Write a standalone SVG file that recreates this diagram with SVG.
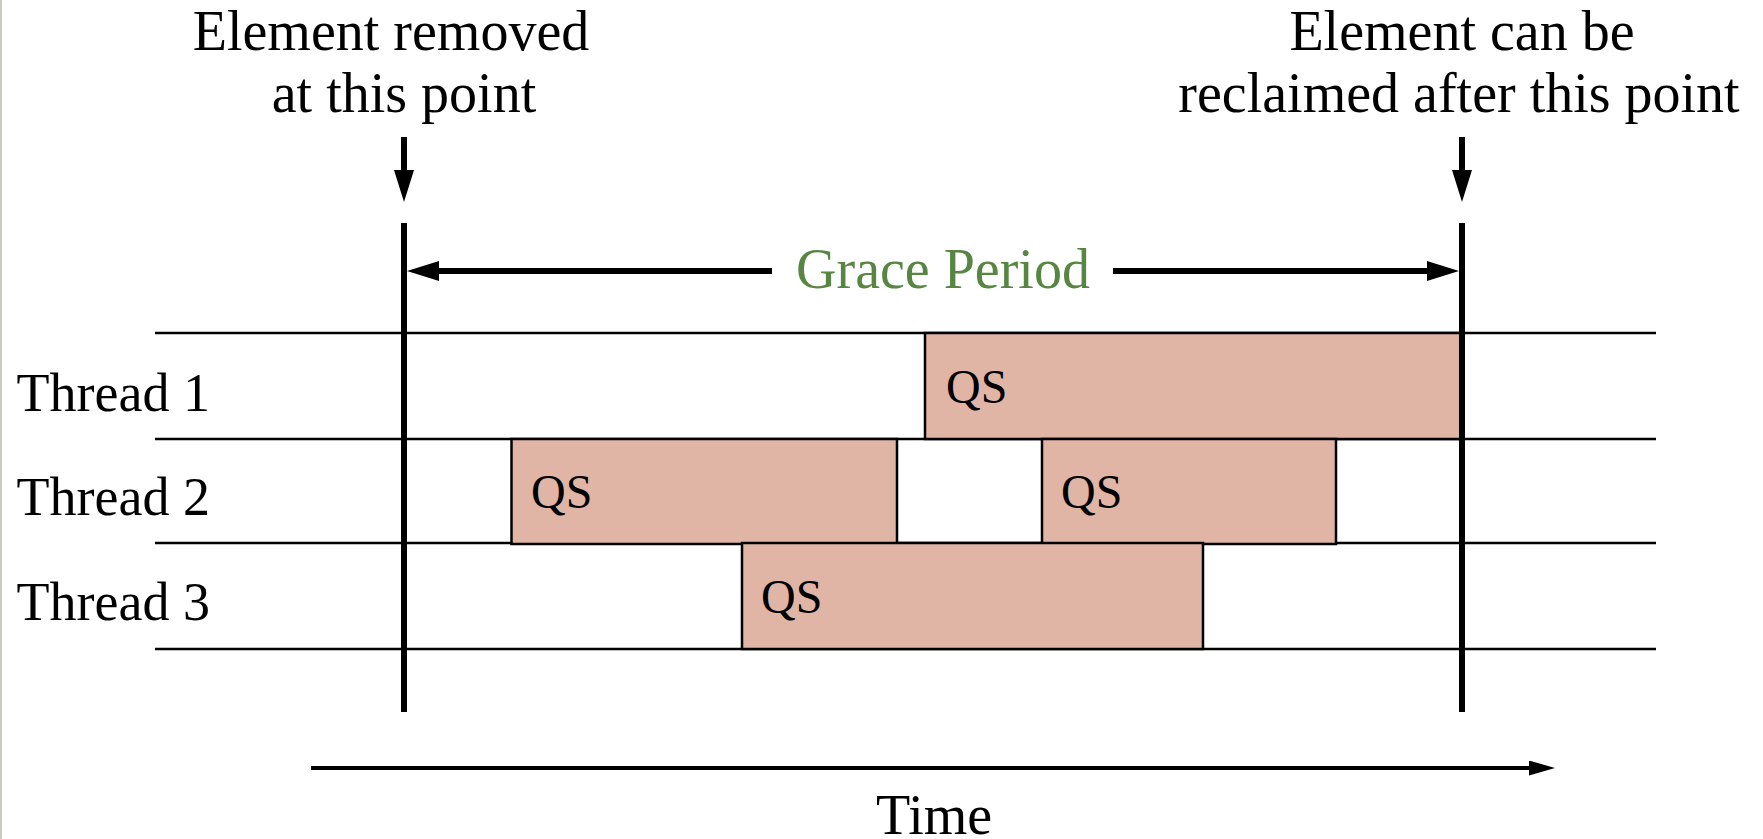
<svg xmlns="http://www.w3.org/2000/svg" width="1763" height="839" viewBox="0 0 1763 839">
  <style>
    text { font-family: "Liberation Serif", "Times New Roman", serif; fill: #000; }
    .lbl { font-size: 56px; text-anchor: middle; }
    .thr { font-size: 54px; text-anchor: end; }
    .qs { font-size: 48px; }
    .grace { font-size: 56px; text-anchor: middle; fill: #578642; }
    .lane { stroke: #000; stroke-width: 2.5; fill: none; }
    .box { fill: #e0b5a6; stroke: #000; stroke-width: 2.5; }
    .mark { stroke: #000; stroke-width: 6; fill: none; }
    .arr { stroke: #000; stroke-width: 6; fill: none; marker-end: url(#head-lg); }
    .time { stroke: #000; stroke-width: 4; fill: none; marker-end: url(#head-sm); }
  </style>
  <defs>
    <marker id="head-lg" viewBox="0 0 32 20" refX="8" refY="10" markerWidth="32" markerHeight="20" markerUnits="userSpaceOnUse" orient="auto">
      <path d="M0,0 L32,10 L0,20 Z" fill="#000"/>
    </marker>
    <marker id="head-sm" viewBox="0 0 26 15" refX="6" refY="7.5" markerWidth="26" markerHeight="15" markerUnits="userSpaceOnUse" orient="auto">
      <path d="M0,0 L26,7.5 L0,15 Z" fill="#000"/>
    </marker>
  </defs>

  <rect width="1763" height="839" fill="#fff"/>
  <rect x="0" y="0" width="2" height="839" fill="#c9cbc1"/>

  <!-- thread lanes -->
  <g id="lanes">
    <line class="lane" x1="155" y1="333" x2="1656" y2="333"/>
    <line class="lane" x1="155" y1="439" x2="1656" y2="439"/>
    <line class="lane" x1="155" y1="543" x2="1656" y2="543"/>
    <line class="lane" x1="155" y1="649" x2="1656" y2="649"/>
  </g>

  <g id="thread1">
    <text class="thr" x="210" y="411">Thread 1</text>
    <g id="qs-t1">
      <rect class="box" x="925" y="333" width="537" height="106"/>
      <text class="qs" x="946" y="403">QS</text>
    </g>
  </g>
  <g id="thread2">
    <text class="thr" x="210" y="515">Thread 2</text>
    <g id="qs-t2a">
      <rect class="box" x="511.5" y="439" width="385.5" height="105"/>
      <text class="qs" x="531" y="508">QS</text>
    </g>
    <g id="qs-t2b">
      <rect class="box" x="1042" y="439" width="294" height="105"/>
      <text class="qs" x="1061" y="508">QS</text>
    </g>
  </g>
  <g id="thread3">
    <text class="thr" x="210" y="620">Thread 3</text>
    <g id="qs-t3">
      <rect class="box" x="742" y="543" width="461" height="106"/>
      <text class="qs" x="761" y="613">QS</text>
    </g>
  </g>

  <g id="removed-label">
    <text class="lbl" x="391" y="50">Element removed</text>
    <text class="lbl" x="404" y="112">at this point</text>
  </g>
  <g id="reclaim-label">
    <text class="lbl" x="1462" y="50">Element can be</text>
    <text class="lbl" x="1459" y="112">reclaimed after this point</text>
  </g>
  <g id="grace-label">
    <text class="grace" x="943" y="288">Grace Period</text>
  </g>
  <g id="time-label">
    <text class="lbl" x="934" y="834">Time</text>
  </g>

  <!-- connectors: markers, pointer arrows, grace span, time axis -->
  <g id="connectors">
    <line class="mark" x1="404" y1="223" x2="404" y2="712"/>
    <line class="mark" x1="1462" y1="223" x2="1462" y2="712"/>
    <line class="arr" x1="404" y1="137" x2="404" y2="178"/>
    <line class="arr" x1="1462" y1="137" x2="1462" y2="178"/>
    <line class="arr" x1="772" y1="271" x2="431" y2="271"/>
    <line class="arr" x1="1113" y1="271" x2="1435" y2="271"/>
    <line class="time" x1="311" y1="768" x2="1535" y2="768"/>
  </g>
</svg>
